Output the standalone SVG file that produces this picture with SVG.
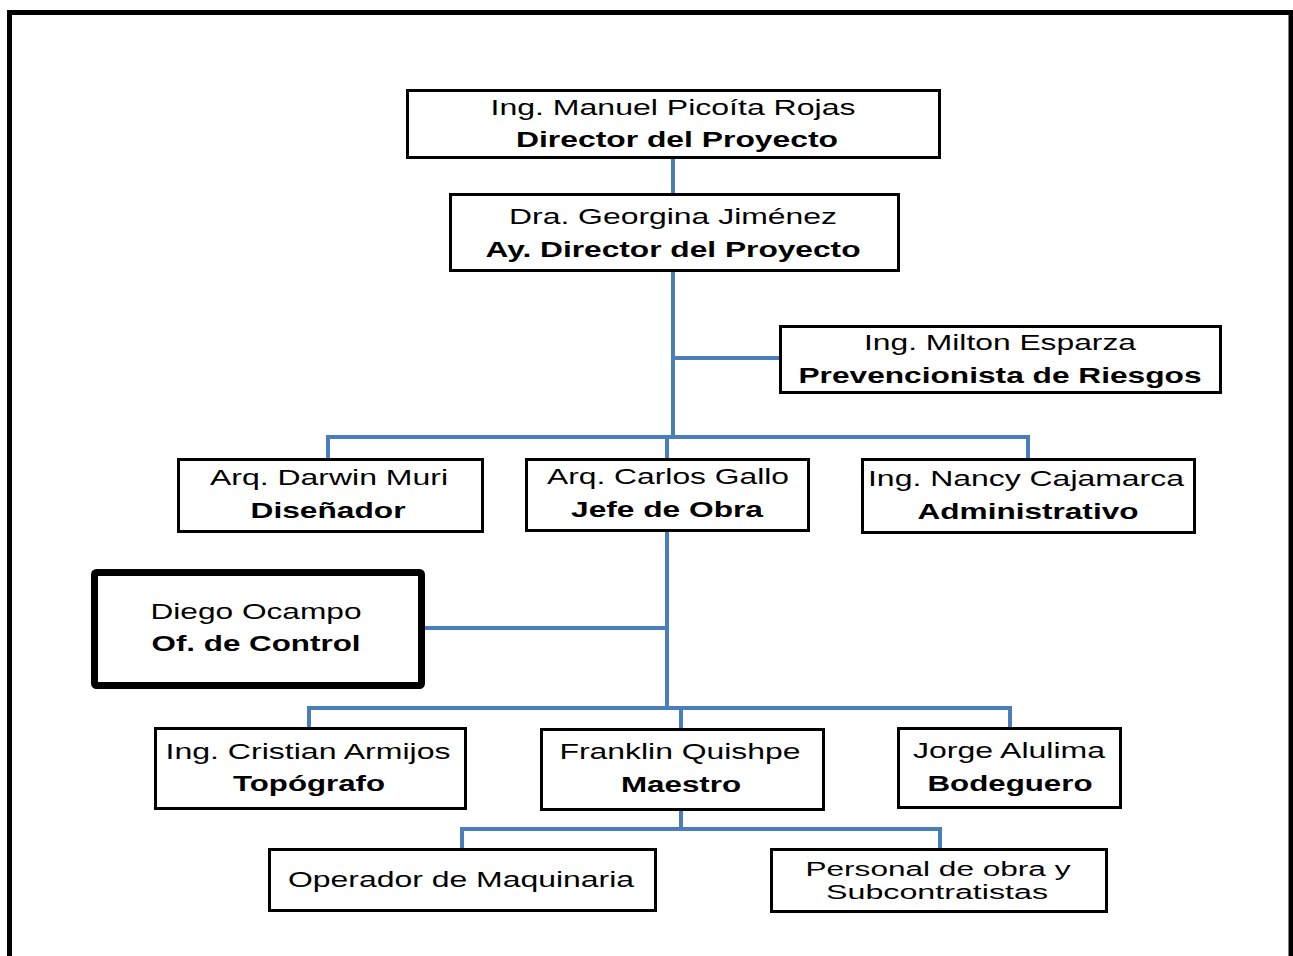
<svg xmlns="http://www.w3.org/2000/svg" width="1293" height="956" viewBox="0 0 1293 956">
  <style>
    .box { fill: #ffffff; stroke: #000000; stroke-width: 3; }
    .boxHeavy { fill: #ffffff; stroke: #000000; stroke-width: 7; }
    .name { font-family: "Liberation Sans", Arial, sans-serif; font-size: 22px; fill: #000000; text-anchor: middle; }
    .role { font-family: "Liberation Sans", Arial, sans-serif; font-size: 22px; font-weight: bold; fill: #000000; text-anchor: middle; }
    .small { font-size: 20px; }
    .link { fill: none; stroke: #4a7ebb; stroke-width: 4; }
  </style>
  <rect x="0" y="0" width="1293" height="956" fill="#ffffff"/>
  <!-- outer frame, open at the bottom -->
  <path d="M9.5,960 V12.5 H1291 V960" fill="none" stroke="#000000" stroke-width="5"/>

  <g id="connectors">
    <line class="link" x1="673" y1="157" x2="673" y2="194"/>
    <line class="link" x1="673" y1="270" x2="673" y2="437"/>
    <line class="link" x1="673" y1="358" x2="780" y2="358"/>
    <path class="link" d="M328,459 V437 H1028 V459"/>
    <line class="link" x1="667" y1="437" x2="667" y2="459"/>
    <line class="link" x1="667" y1="530" x2="667" y2="708"/>
    <line class="link" x1="423" y1="628" x2="667" y2="628"/>
    <path class="link" d="M309,728 V708 H1010 V728"/>
    <line class="link" x1="681" y1="708" x2="681" y2="729"/>
    <line class="link" x1="681" y1="809" x2="681" y2="829"/>
    <path class="link" d="M462,849 V829 H940 V849"/>
  </g>

  <g id="director">
    <rect class="box" x="407.5" y="90.5" width="532" height="67"/>
    <text class="name" x="673" y="115" textLength="365" lengthAdjust="spacingAndGlyphs">Ing. Manuel Picoíta Rojas</text>
    <text class="role" x="677" y="147" textLength="322" lengthAdjust="spacingAndGlyphs">Director del Proyecto</text>
  </g>

  <g id="ay-director">
    <rect class="box" x="450.5" y="194.5" width="448" height="76"/>
    <text class="name" x="673" y="224" textLength="328" lengthAdjust="spacingAndGlyphs">Dra. Georgina Jiménez</text>
    <text class="role" x="673" y="257" textLength="375" lengthAdjust="spacingAndGlyphs">Ay. Director del Proyecto</text>
  </g>

  <g id="prevencionista">
    <rect class="box" x="780.5" y="326.5" width="440" height="66"/>
    <text class="name" x="1000" y="350" textLength="272" lengthAdjust="spacingAndGlyphs">Ing. Milton Esparza</text>
    <text class="role" x="1000" y="383" textLength="403" lengthAdjust="spacingAndGlyphs">Prevencionista de Riesgos</text>
  </g>

  <g id="disenador">
    <rect class="box" x="178.5" y="459.5" width="304" height="72"/>
    <text class="name" x="329" y="485" textLength="238" lengthAdjust="spacingAndGlyphs">Arq. Darwin Muri</text>
    <text class="role" x="328" y="518" textLength="155" lengthAdjust="spacingAndGlyphs">Diseñador</text>
  </g>

  <g id="jefe-obra">
    <rect class="box" x="526.5" y="459.5" width="282" height="71"/>
    <text class="name" x="668" y="484" textLength="242" lengthAdjust="spacingAndGlyphs">Arq. Carlos Gallo</text>
    <text class="role" x="667" y="517" textLength="192" lengthAdjust="spacingAndGlyphs">Jefe de Obra</text>
  </g>

  <g id="administrativo">
    <rect class="box" x="862.5" y="459.5" width="332" height="73"/>
    <text class="name" x="1026" y="486" textLength="316" lengthAdjust="spacingAndGlyphs">Ing. Nancy Cajamarca</text>
    <text class="role" x="1028" y="519" textLength="221" lengthAdjust="spacingAndGlyphs">Administrativo</text>
  </g>

  <g id="control">
    <rect class="boxHeavy" x="94.5" y="572.5" width="327" height="113" rx="2"/>
    <text class="name" x="256" y="619" textLength="211" lengthAdjust="spacingAndGlyphs">Diego Ocampo</text>
    <text class="role" x="256" y="651" textLength="209" lengthAdjust="spacingAndGlyphs">Of. de Control</text>
  </g>

  <g id="topografo">
    <rect class="box" x="155.5" y="728.5" width="310" height="80"/>
    <text class="name" x="308" y="759" textLength="285" lengthAdjust="spacingAndGlyphs">Ing. Cristian Armijos</text>
    <text class="role" x="309" y="791" textLength="152" lengthAdjust="spacingAndGlyphs">Topógrafo</text>
  </g>

  <g id="maestro">
    <rect class="box" x="541.5" y="729.5" width="282" height="80"/>
    <text class="name" x="680" y="759" textLength="241" lengthAdjust="spacingAndGlyphs">Franklin Quishpe</text>
    <text class="role" x="681" y="792" textLength="120" lengthAdjust="spacingAndGlyphs">Maestro</text>
  </g>

  <g id="bodeguero">
    <rect class="box" x="898.5" y="728.5" width="222" height="79"/>
    <text class="name" x="1009" y="758" textLength="192" lengthAdjust="spacingAndGlyphs">Jorge Alulima</text>
    <text class="role" x="1010" y="791" textLength="165" lengthAdjust="spacingAndGlyphs">Bodeguero</text>
  </g>

  <g id="operador">
    <rect class="box" x="269.5" y="849.5" width="386" height="61"/>
    <text class="name" x="461" y="887" textLength="346" lengthAdjust="spacingAndGlyphs">Operador de Maquinaria</text>
  </g>

  <g id="personal">
    <rect class="box" x="771.5" y="849.5" width="335" height="62"/>
    <text class="name small" x="938" y="876" textLength="265" lengthAdjust="spacingAndGlyphs">Personal de obra y</text>
    <text class="name small" x="937" y="899" textLength="222" lengthAdjust="spacingAndGlyphs">Subcontratistas</text>
  </g>
</svg>
